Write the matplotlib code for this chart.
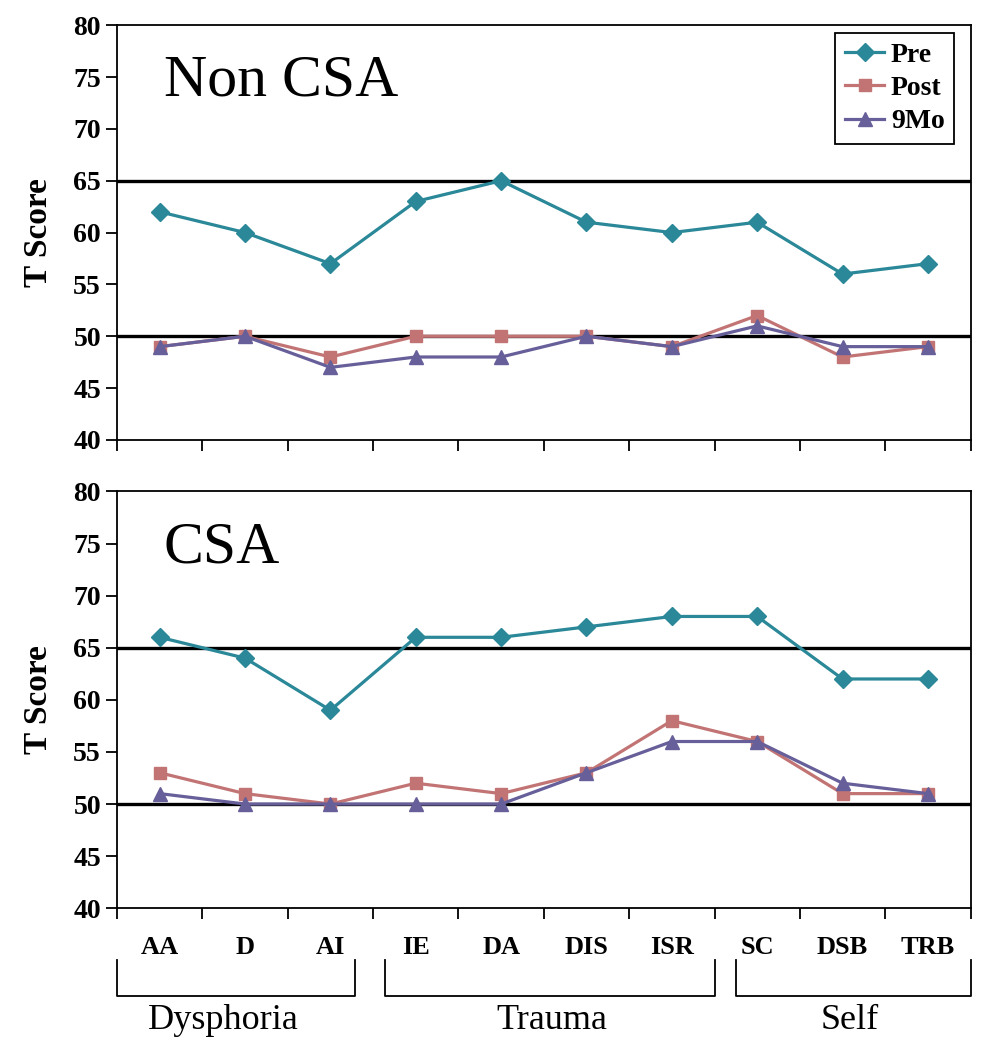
import matplotlib
matplotlib.use("Agg")
import matplotlib.pyplot as plt
import matplotlib.transforms as mtransforms

plt.rcParams['font.family'] = ['Liberation Serif', 'DejaVu Serif']

categories = ['AA', 'D', 'AI', 'IE', 'DA', 'DIS', 'ISR', 'SC', 'DSB', 'TRB']

# Non CSA group
noncsa_pre = [62, 60, 57, 63, 65, 61, 60, 61, 56, 57]
noncsa_post = [49, 50, 48, 50, 50, 50, 49, 52, 48, 49]
noncsa_9mo = [49, 50, 47, 48, 48, 50, 49, 51, 49, 49]

# CSA group
csa_pre = [66, 64, 59, 66, 66, 67, 68, 68, 62, 62]
csa_post = [53, 51, 50, 52, 51, 53, 58, 56, 51, 51]
csa_9mo = [51, 50, 50, 50, 50, 53, 56, 56, 52, 51]

cutoffs = [50, 65]
groups = [('Dysphoria', 0.5, 3.29, 1.75), ('Trauma', 3.64, 7.51, 5.59), ('Self', 7.75, 10.5, 9.09)]

pre_color = '#2a8898'
post_color = '#c27474'
mo_color = '#675f99'


def draw_panel(ax, pre, post, mo, title, show_legend):
    x = range(1, len(categories) + 1)
    for c in cutoffs:
        ax.axhline(c, color='black', lw=2.4, zorder=1)
    ax.plot(x, pre, color=pre_color, lw=2.3, marker='D', markersize=9, label='Pre', zorder=3)
    ax.plot(x, post, color=post_color, lw=2.3, marker='s', markersize=8.5, label='Post', zorder=3)
    ax.plot(x, mo, color=mo_color, lw=2.3, marker='^', markersize=10, label='9Mo', zorder=3)

    ax.set_xlim(0.5, 10.5)
    ax.set_ylim(40, 80)
    ax.set_yticks(range(40, 81, 5))
    ax.set_xticks([i + 0.5 for i in range(0, 11)])
    ax.set_xticklabels([])
    ax.tick_params(axis='x', direction='out', length=8, width=1.3)
    ax.tick_params(axis='y', direction='out', length=8, width=1.3, labelsize=20)
    for lab in ax.get_yticklabels():
        lab.set_fontweight('bold')
    for sp in ax.spines.values():
        sp.set_linewidth(1.3)
    ax.set_ylabel('T Score', fontsize=24, fontweight='bold', labelpad=14)
    ax.text(0.055, 0.83, title, transform=ax.transAxes, fontsize=43, ha='left', va='baseline')
    if show_legend:
        leg = ax.legend(loc='upper right', bbox_to_anchor=(0.981, 0.982), fancybox=False,
                        edgecolor='black', framealpha=1, handlelength=1.4,
                        prop={'weight': 'bold', 'size': 20}, borderpad=0.35,
                        labelspacing=0.28, handletextpad=0.25, borderaxespad=0)
        leg.get_frame().set_linewidth(1.3)


fig = plt.figure(figsize=(9.96, 10.5), dpi=100)
ax1 = fig.add_axes([0.1175, 0.581, 0.857, 0.395])
ax2 = fig.add_axes([0.1175, 0.135, 0.857, 0.397])

draw_panel(ax1, noncsa_pre, noncsa_post, noncsa_9mo, 'Non CSA', True)
draw_panel(ax2, csa_pre, csa_post, csa_9mo, 'CSA', False)

# category labels under the bottom panel
ax2.set_xticks(range(1, 11), minor=True)
ax2.set_xticklabels(categories, minor=True, fontsize=19, fontweight='bold')
ax2.tick_params(axis='x', which='minor', length=0, pad=20)

# group brackets
trans = mtransforms.blended_transform_factory(ax2.transData, ax2.transAxes)
for name, x0, x1, xc in groups:
    ax2.plot([x0, x0, x1, x1], [-0.125, -0.21, -0.21, -0.125], color='black', lw=1.3,
             transform=trans, clip_on=False)
    ax2.text(xc, -0.27, name, transform=trans, fontsize=26, ha='center', va='center')

fig.savefig('out.png', dpi=100)
